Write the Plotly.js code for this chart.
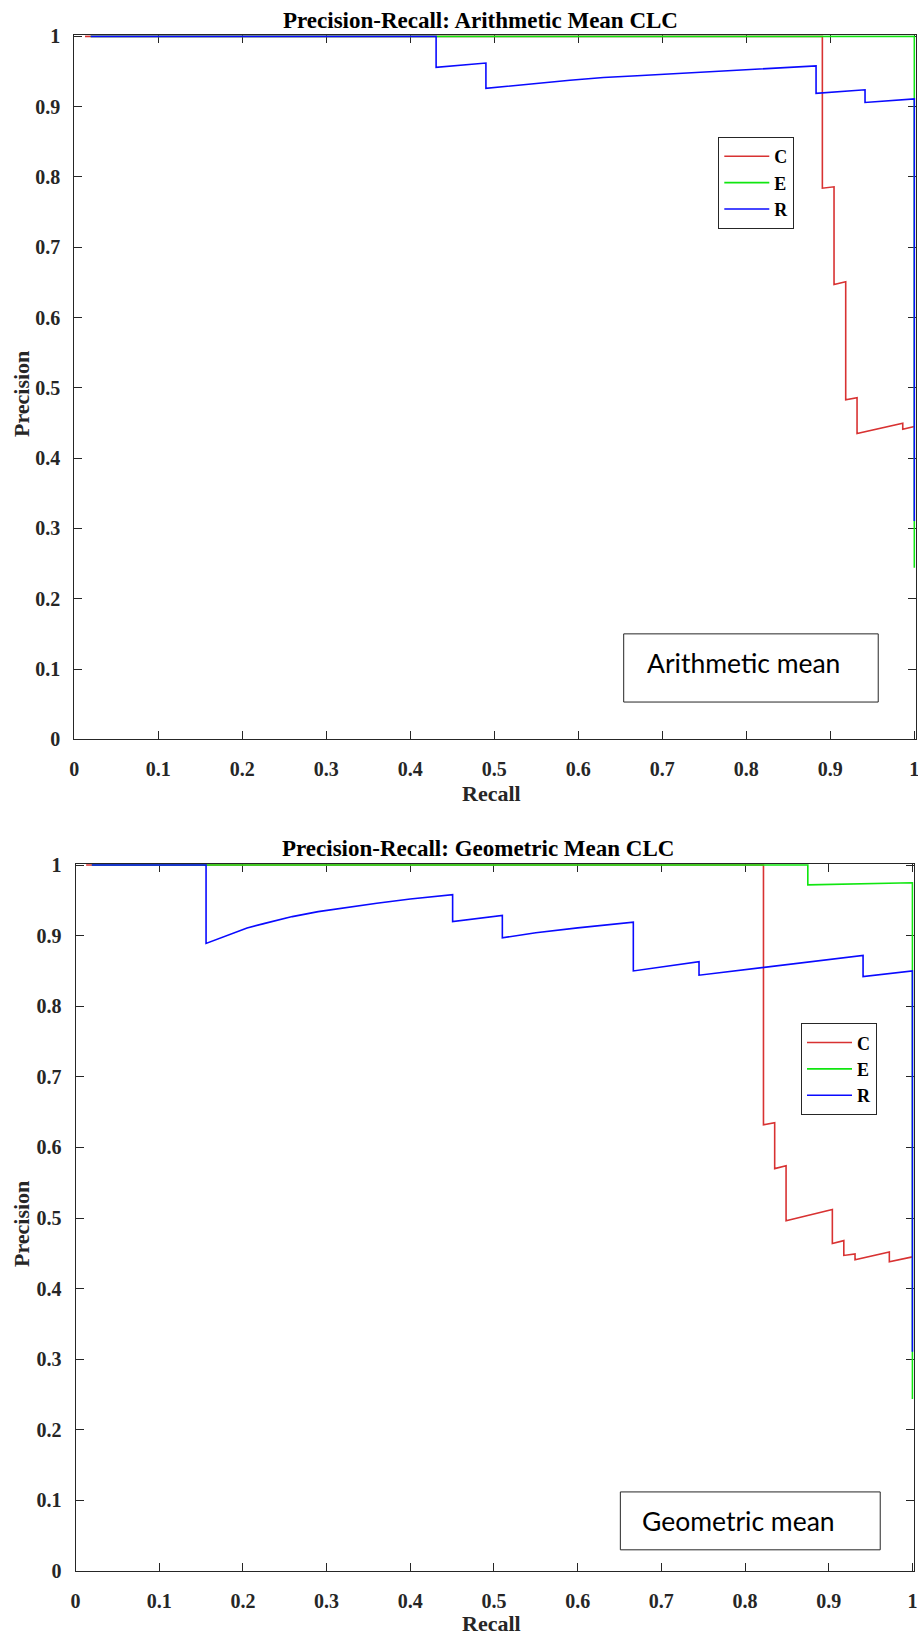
<!DOCTYPE html>
<html>
<head>
<meta charset="utf-8">
<script src="https://cdn.plot.ly/plotly-3.0.1.min.js"></script>
<style>
  html, body { margin: 0; padding: 0; background: #ffffff; }
  #chart { width: 918px; height: 1637px; }
</style>
</head>
<body>
<div id="chart"></div>
<script>
// ---------- Data: Arithmetic mean CLC (top) ----------
const arithC_recall    = [0.0127, 0.8905, 0.8905, 0.9044, 0.9044, 0.9183, 0.9183, 0.9318, 0.9318, 0.9862, 0.9862, 1.0];
const arithC_precision = [1.0, 1.0, 0.784, 0.786, 0.647, 0.651, 0.483, 0.486, 0.435, 0.4495, 0.441, 0.445];

const arithE_recall    = [0.0195, 1.0, 1.0];
const arithE_precision = [1.0, 1.0, 0.244];

const arithR_recall    = [0.0195, 0.4307, 0.4307, 0.49, 0.49, 0.52, 0.55, 0.59, 0.63, 0.67, 0.70, 0.745, 0.804, 0.85, 0.883, 0.883, 0.9413, 0.9413, 1.0, 1.0];
const arithR_precision = [1.0, 1.0, 0.956, 0.962, 0.926, 0.930, 0.933, 0.9375, 0.9415, 0.944, 0.946, 0.9495, 0.9535, 0.9562, 0.958, 0.919, 0.924, 0.906, 0.911, 0.3105];

// ---------- Data: Geometric mean CLC (bottom) ----------
const geoC_recall    = [0.0127, 0.822, 0.822, 0.8354, 0.8354, 0.849, 0.849, 0.9043, 0.9043, 0.918, 0.918, 0.9314, 0.9314, 0.9724, 0.9724, 1.0];
const geoC_precision = [1.0, 1.0, 0.632, 0.635, 0.570, 0.574, 0.496, 0.512, 0.464, 0.468, 0.447, 0.449, 0.441, 0.452, 0.438, 0.445];

const geoE_recall    = [0.0195, 0.875, 0.875, 1.0, 1.0];
const geoE_precision = [1.0, 1.0, 0.972, 0.975, 0.2436];

const geoR_recall    = [0.0195, 0.156, 0.156, 0.165, 0.175, 0.189, 0.205, 0.225, 0.259, 0.29, 0.329, 0.36, 0.40, 0.4506, 0.4506, 0.510, 0.510, 0.55, 0.6, 0.6665, 0.6665, 0.745, 0.745, 0.8, 0.85, 0.941, 0.941, 1.0, 1.0];
const geoR_precision = [1.0, 1.0, 0.889, 0.893, 0.898, 0.904, 0.911, 0.917, 0.927, 0.934, 0.941, 0.946, 0.952, 0.958, 0.920, 0.9286, 0.897, 0.904, 0.911, 0.919, 0.850, 0.863, 0.844, 0.852, 0.859, 0.872, 0.842, 0.850, 0.3106];

// ---------- Labels ----------
const seriesNames = ["C", "E", "R"];
const tickVals = [0, 0.1, 0.2, 0.3, 0.4, 0.5, 0.6, 0.7, 0.8, 0.9, 1];
const tickText = ["0", "0.1", "0.2", "0.3", "0.4", "0.5", "0.6", "0.7", "0.8", "0.9", "1"];
const titles = ["Precision-Recall: Arithmetic Mean CLC", "Precision-Recall: Geometric Mean CLC"];
const boxTexts = ["Arithmetic mean", "Geometric mean"];
const xLabel = "Recall";
const yLabel = "Precision";

// ---------- Styling ----------
const colors = ["#d83232", "#10e610", "#0a0aff"];
const lw = 1.6;
const serif = "Liberation Serif, Times New Roman, serif";
const axisCol = "#262626";
const W = 918, H = 1637;

function trace(x, y, i, xa, ya, leg) {
  return {
    type: "scatter", mode: "lines", x: x, y: y, name: seriesNames[i],
    xaxis: xa, yaxis: ya, legend: leg,
    line: { color: colors[i], width: lw, shape: "linear" },
    hoverinfo: "skip"
  };
}

const data = [
  trace(arithC_recall, arithC_precision, 0, "x", "y", "legend"),
  trace(arithE_recall, arithE_precision, 1, "x", "y", "legend"),
  trace(arithR_recall, arithR_precision, 2, "x", "y", "legend"),
  trace(geoC_recall, geoC_precision, 0, "x2", "y2", "legend2"),
  trace(geoE_recall, geoE_precision, 1, "x2", "y2", "legend2"),
  trace(geoR_recall, geoR_precision, 2, "x2", "y2", "legend2")
];

function axis(domain, anchor, isY) {
  return {
    domain: domain, anchor: anchor, range: [0, 1.0015],
    tickmode: "array", tickvals: tickVals, ticktext: tickText,
    ticks: "inside", ticklen: 8, tickwidth: 1, tickcolor: axisCol,
    showline: true, linecolor: axisCol, linewidth: 1, mirror: "ticks",
    showgrid: false, zeroline: false, layer: "below traces",
    ticklabelstandoff: isY ? 9 : 12, ticklabeloverflow: "allow",
    tickfont: { family: serif, size: 20, color: axisCol, weight: "bold" },
    fixedrange: true
  };
}

// pixel -> paper helpers
const px = v => v / W;
const py = v => 1 - v / H;

const titleFont = { family: serif, size: 23, color: "#000000", weight: "bold" };
const labFont = { family: serif, size: 22, color: axisCol, weight: "bold" };
const boxFont = { family: "Lato, Open Sans, sans-serif", size: 26.5, color: "#000000" };
const legFont = { family: serif, size: 18, color: "#000000", weight: "bold" };

const layout = {
  width: W, height: H,
  margin: { l: 0, r: 0, t: 0, b: 0 },
  paper_bgcolor: "#ffffff", plot_bgcolor: "#ffffff",
  xaxis: axis([px(74.3), px(915.6)], "y", false),
  yaxis: axis([py(739.3), py(35.3)], "x", true),
  xaxis2: axis([px(75.5), px(913.7)], "y2", false),
  yaxis2: axis([py(1571), py(864)], "x2", true),
  legend: {
    x: px(718.3), y: py(137), xanchor: "left", yanchor: "top",
    bgcolor: "#ffffff", bordercolor: axisCol, borderwidth: 1,
    font: legFont, itemwidth: 45, tracegroupgap: 0
  },
  legend2: {
    x: px(801), y: py(1023.3), xanchor: "left", yanchor: "top",
    bgcolor: "#ffffff", bordercolor: axisCol, borderwidth: 1,
    font: legFont, itemwidth: 45, tracegroupgap: 0
  },
  shapes: [
    { type: "rect", xref: "x", yref: "y", x0: 0.654, x1: 0.957, y0: 0.053, y1: 0.150,
      line: { color: axisCol, width: 1 }, fillcolor: "rgba(0,0,0,0)", layer: "above" },
    { type: "rect", xref: "x2", yref: "y2", x0: 0.651, x1: 0.9615, y0: 0.030, y1: 0.112,
      line: { color: axisCol, width: 1 }, fillcolor: "rgba(0,0,0,0)", layer: "above" }
  ],
  annotations: [
    { text: titles[0], xref: "paper", yref: "paper", x: px(480), y: py(20), xanchor: "center", yanchor: "middle", showarrow: false, font: titleFont },
    { text: titles[1], xref: "paper", yref: "paper", x: px(478), y: py(849), xanchor: "center", yanchor: "middle", showarrow: false, font: titleFont },
    { text: xLabel, xref: "paper", yref: "paper", x: px(491), y: py(793), xanchor: "center", yanchor: "middle", showarrow: false, font: labFont },
    { text: xLabel, xref: "paper", yref: "paper", x: px(491), y: py(1623), xanchor: "center", yanchor: "middle", showarrow: false, font: labFont },
    { text: yLabel, xref: "paper", yref: "paper", x: px(21), y: py(394), xanchor: "center", yanchor: "middle", textangle: -90, showarrow: false, font: labFont },
    { text: yLabel, xref: "paper", yref: "paper", x: px(21), y: py(1224), xanchor: "center", yanchor: "middle", textangle: -90, showarrow: false, font: labFont },
    { text: boxTexts[0], xref: "x", yref: "y", x: 0.679, y: 0.1085, xanchor: "left", yanchor: "middle", showarrow: false, font: boxFont },
    { text: boxTexts[1], xref: "x2", yref: "y2", x: 0.674, y: 0.0708, xanchor: "left", yanchor: "middle", showarrow: false, font: boxFont }
  ]
};

Plotly.newPlot("chart", data, layout, { displayModeBar: false, staticPlot: true });
</script>
</body>
</html>
